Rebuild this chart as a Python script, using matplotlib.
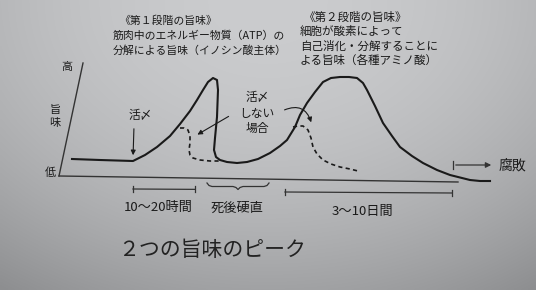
import matplotlib.pyplot as plt
import numpy as np

plt.rcParams['font.family'] = ['Noto Sans CJK JP', 'DejaVu Sans']

# curves (x: time, y: taste, both in picture units, y down)
main_x = [72, 100, 133, 145, 157, 170, 180, 190, 197, 203, 208, 213, 217, 218, 217, 215,
          214, 216, 220, 227, 237, 247, 258, 270, 280, 287, 295, 300, 307, 315, 323, 331,
          340, 349, 357, 363, 367, 375, 383, 392, 400, 412, 423, 437, 450, 462, 470, 480, 490]
main_y = [159, 160, 161, 155, 147, 136, 124, 111, 100, 90, 82, 78, 80, 90, 117, 138,
          150, 157, 160, 162, 163, 162, 159, 153, 146, 140, 127, 115, 103, 92, 82, 78,
          77, 77, 78, 83, 90, 106, 123, 136, 147, 156, 163, 170, 175, 178, 180, 181, 181]
nojime1_x = [180, 184, 188, 190, 190, 189, 190, 193, 200, 210, 220]
nojime1_y = [128, 128, 130, 136, 143, 150, 155, 158, 160, 161, 161]
nojime2_x = [293, 298, 303, 308, 311, 313, 317, 323, 331, 340, 350, 358]
nojime2_y = [127, 126, 126, 130, 138, 147, 154, 160, 164, 167, 169, 171]

# time intervals under the axis
interval_start = [133, 285]
interval_end = [195, 452]
interval_labels = ['10～20時間', '3～10日間']
rigor_label = '死後硬直'

block1 = ['《第１段階の旨味》', '筋肉中のエネルギー物質（ATP）の', '分解による旨味（イノシン酸主体）']
block2 = ['《第２段階の旨味》', '細胞が酸素によって', '自己消化・分解することに', 'よる旨味（各種アミノ酸）']

ink = '#1a1a1a'
fig = plt.figure(figsize=(5.36, 2.90), dpi=100)
ax = fig.add_axes([0, 0, 1, 1])
ax.set_xlim(0, 536)
ax.set_ylim(290, 0)
ax.axis('off')

# paper background (photo shading)
yy, xx = np.mgrid[0:1:120j, -1:1:200j]
shade = 203 - 42 * yy ** 2 - 20 * xx ** 2
paper = np.dstack([shade, shade + 1, shade + 3]) / 255.0
ax.imshow(np.clip(paper, 0, 1), extent=[0, 536, 290, 0], aspect='auto', zorder=0,
          interpolation='bilinear')

# axes of the sketch
ax.plot([59, 83], [176, 63], color='#333333', lw=1.0)
ax.plot([59, 458], [176, 182], color='#333333', lw=1.0)
ax.text(67, 67, '高', fontsize=8, color=ink, ha='center', va='center')
ax.text(55, 110, '旨', fontsize=8, color=ink, ha='center', va='center')
ax.text(55, 123, '味', fontsize=8, color=ink, ha='center', va='center')
ax.text(50, 173, '低', fontsize=8, color=ink, ha='center', va='center')

ax.plot(main_x, main_y, color=ink, lw=1.5)
ax.plot(nojime1_x, nojime1_y, color=ink, lw=1.2, ls=(0, (2.5, 2)))
ax.plot(nojime2_x, nojime2_y, color=ink, lw=1.2, ls=(0, (2.5, 2)))

# labels with arrows
ax.text(140, 116, '活〆', fontsize=8.5, color=ink, ha='center', va='center')
ax.annotate('', xy=(133, 158), xytext=(134, 126),
            arrowprops=dict(arrowstyle='-|>', color=ink, lw=0.8, mutation_scale=7))
ax.text(257, 98, '活〆', fontsize=8.5, color=ink, ha='center', va='center')
ax.text(257, 113, 'しない', fontsize=8.5, color=ink, ha='center', va='center')
ax.text(257, 128, '場合', fontsize=8.5, color=ink, ha='center', va='center')
ax.annotate('', xy=(195, 136), xytext=(231, 115),
            arrowprops=dict(arrowstyle='-|>', color=ink, lw=0.8, mutation_scale=7))
ax.annotate('', xy=(312, 125), xytext=(282, 111),
            arrowprops=dict(arrowstyle='-|>', color=ink, lw=0.8, mutation_scale=7,
                            connectionstyle='arc3,rad=-0.6'))

# intervals
for x0, x1, lab, yb in zip(interval_start, interval_end, interval_labels, [189, 192]):
    slope = (x1 - x0) * 0.006
    ax.plot([x0, x1], [yb, yb + slope], color='#333333', lw=0.9)
    ax.plot([x0, x0], [yb - 3, yb + 3], color='#333333', lw=0.9)
    ax.plot([x1, x1], [yb - 3 + slope, yb + 3 + slope], color='#333333', lw=0.9)
    ax.text((x0 + x1) / 2 - 6, yb + 19, lab, fontsize=9.5, color=ink, ha='center', va='center')
brace_x = [207, 209, 212, 233, 236, 238, 240, 243, 264, 267, 269]
brace_y = [183, 185.5, 186.5, 186.5, 187.5, 189.5, 187.5, 186.5, 186.5, 185.5, 183]
ax.plot(brace_x, brace_y, color='#333333', lw=0.9)
ax.text(237, 208, rigor_label, fontsize=9.5, color=ink, ha='center', va='center')

# putrefaction
ax.plot([453, 453], [161, 169], color='#333333', lw=0.9)
ax.annotate('', xy=(494, 165), xytext=(453, 165),
            arrowprops=dict(arrowstyle='-|>', color='#333333', lw=0.9, mutation_scale=8))
ax.text(499, 166, '腐敗', fontsize=10, color=ink, ha='left', va='center')

# explanations
for i, line in enumerate(block1):
    ax.text(113 if i else 119, 21 + 15 * i, line, fontsize=7.8, color=ink, ha='left', va='center')
for i, line in enumerate(block2):
    ax.text(300 if i else 304, 17 + 14.5 * i, line, fontsize=8.3, color=ink, ha='left', va='center')

ax.text(212, 250, '２つの旨味のピーク', fontsize=15, color='#222222', ha='center', va='center')

fig.savefig('out.png', dpi=100)
